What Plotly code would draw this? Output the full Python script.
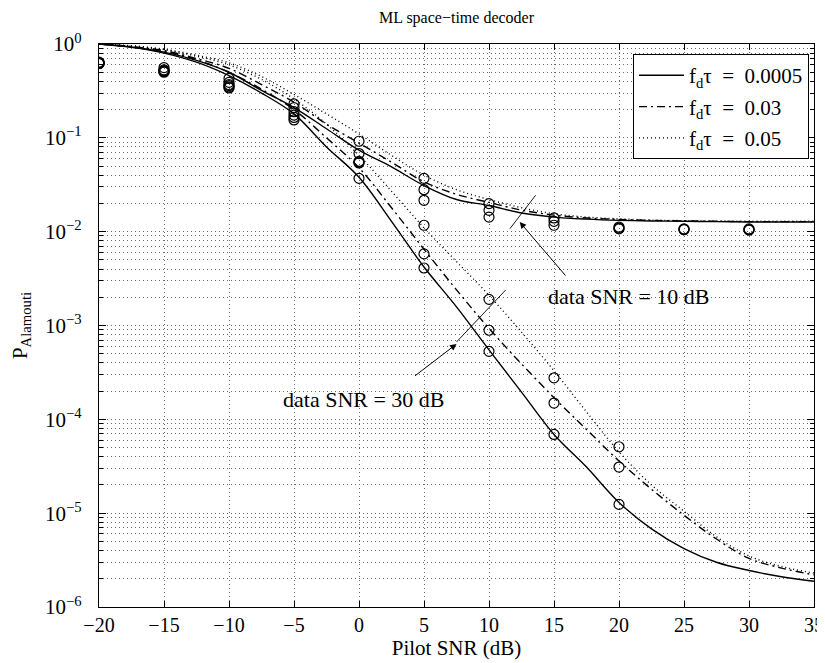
import numpy as np
import plotly.graph_objects as go

# ---------------- data ----------------
x_curve = [-20, -17.5, -15, -12.5, -10, -7.5, -5, -2.5, 0, 2.5, 5, 7.5, 10,
           12.5, 15, 17.5, 20, 22.5, 25, 27.5, 30, 32.5, 35]

# data SNR = 10 dB (upper family)
p_a_10 = [1.0, 0.93, 0.82, 0.67, 0.50, 0.32, 0.21, 0.125, 0.074, 0.049, 0.031, 0.022, 0.019,
          0.0158, 0.0143, 0.0136, 0.0132, 0.0130, 0.0129, 0.0128, 0.0127, 0.0127, 0.0127]
p_b_10 = [1.0, 0.94, 0.85, 0.70, 0.55, 0.37, 0.24, 0.14, 0.088, 0.055, 0.034, 0.025, 0.0205,
          0.017, 0.015, 0.014, 0.0135, 0.0132, 0.0130, 0.0129, 0.0128, 0.0128, 0.0128]
p_c_10 = [1.0, 0.96, 0.88, 0.76, 0.63, 0.45, 0.29, 0.18, 0.11, 0.065, 0.040, 0.028, 0.022,
          0.018, 0.0155, 0.0143, 0.0137, 0.0133, 0.0131, 0.0130, 0.0129, 0.0129, 0.0129]

# data SNR = 30 dB (lower family)
p_a_30 = [1.0, 0.92, 0.80, 0.64, 0.46, 0.30, 0.18, 0.08, 0.038, 0.0129, 0.0042, 0.00158, 0.00055,
          1.95e-4, 6.9e-5, 3.1e-5, 1.3e-5, 6.8e-6, 4.2e-6, 3.0e-6, 2.45e-6, 2.1e-6, 1.88e-6]
p_b_30 = [1.0, 0.93, 0.84, 0.68, 0.50, 0.33, 0.20, 0.10, 0.048, 0.018, 0.0065, 0.0024, 9.3e-4,
          3.9e-4, 1.7e-4, 7.8e-5, 3.6e-5, 1.8e-5, 9.5e-6, 5.3e-6, 3.3e-6, 2.6e-6, 2.2e-6]
p_c_30 = [1.0, 0.95, 0.87, 0.74, 0.60, 0.42, 0.26, 0.14, 0.065, 0.027, 0.011, 0.0048, 0.0021,
          8.5e-4, 3.3e-4, 1.2e-4, 4.5e-5, 2.0e-5, 1.05e-5, 5.6e-6, 3.5e-6, 2.7e-6, 2.3e-6]

# simulated points (circles)
x_sim_10 = [-20, -15, -10, -5, 0, 5, 10, 15, 20, 25, 30]
s_a_10 = [0.62, 0.51, 0.37, 0.19, 0.056, 0.0216, 0.0143, 0.0117, 0.0107, 0.0105, 0.0104]
s_b_10 = [0.63, 0.53, 0.39, 0.21, 0.068, 0.028, 0.0169, 0.0129, 0.0109, 0.0106, 0.0105]
s_c_10 = [0.64, 0.56, 0.43, 0.23, 0.092, 0.037, 0.0199, 0.0140, 0.0112, 0.0107, 0.0107]
x_sim_30 = [-20, -15, -10, -5, 0, 5, 10, 15, 20]
s_a_30 = [0.62, 0.50, 0.34, 0.155, 0.037, 0.0041, 5.3e-4, 6.9e-5, 1.24e-5]
s_b_30 = [0.62, 0.51, 0.35, 0.165, 0.054, 0.0058, 8.9e-4, 1.49e-4, 3.1e-5]
s_c_30 = [0.63, 0.52, 0.36, 0.175, 0.055, 0.0117, 1.9e-3, 2.77e-4, 5.1e-5]

# annotation marker segments (x in dB, y as probability)
seg10_x = [11.61, 13.59]
seg10_y = [10 ** -1.968, 10 ** -1.612]
seg30_x = [7.50, 11.28]
seg30_y = [10 ** -3.176, 10 ** -2.622]

legend_names = ["f<sub>d</sub>τ  =  0.0005", "f<sub>d</sub>τ  =  0.03", "f<sub>d</sub>τ  =  0.05"]
x_ticks = [-20, -15, -10, -5, 0, 5, 10, 15, 20, 25, 30, 35]
x_ticktext = ["−20", "−15", "−10", "−5", "0", "5", "10", "15", "20", "25", "30", "35"]
y_exps = [-6, -5, -4, -3, -2, -1, 0]

FONT = "Liberation Serif, Times New Roman, serif"

fig = go.Figure()
styles = ["solid", "8px,4px,2px,4px", "1px,3px"]
curves = [(p_a_10, p_a_30), (p_b_10, p_b_30), (p_c_10, p_c_30)]
sims = [(s_a_10, s_a_30), (s_b_10, s_b_30), (s_c_10, s_c_30)]

for i in range(3):
    for j, yv in enumerate(curves[i]):
        fig.add_trace(go.Scatter(
            x=x_curve, y=yv, mode="lines", line_shape="spline",
            line=dict(color="black", width=1.4, dash=styles[i]),
            name=legend_names[i], legendgroup=f"g{i}", showlegend=(j == 0)))
for i in range(3):
    for xs, ys in ((x_sim_10, sims[i][0]), (x_sim_30, sims[i][1])):
        fig.add_trace(go.Scatter(
            x=xs, y=ys, mode="markers",
            marker=dict(symbol="circle-open", size=10, color="black", line=dict(width=1.2)),
            showlegend=False, hoverinfo="skip"))
for sx, sy in ((seg10_x, seg10_y), (seg30_x, seg30_y)):
    fig.add_trace(go.Scatter(x=sx, y=sy, mode="lines", line=dict(color="black", width=0.9),
                             showlegend=False, hoverinfo="skip"))

GRIDC = "#6a6a6a"
GRIDD = "1px,3px"
minor_vals = [k * 10.0 ** e for e in range(-6, 0) for k in range(2, 10)]

fig.update_xaxes(range=[-20, 35], tickvals=x_ticks, ticktext=x_ticktext, automargin=False,
                 ticks="inside", ticklen=6, tickcolor="black", showline=True,
                 linecolor="black", linewidth=1.2, mirror="ticks", zeroline=False,
                 tickfont=dict(family=FONT, size=20, color="black"),
                 showgrid=True, gridcolor=GRIDC, griddash=GRIDD, gridwidth=1,
                 title=dict(text="Pilot SNR (dB)", font=dict(family=FONT, size=21, color="black"), standoff=0))
fig.update_yaxes(type="log", range=[-6, 0], automargin=False,
                 tickvals=[10.0 ** e for e in y_exps],
                 ticktext=[f"10<sup>{'−' + str(-e) if e < 0 else e}</sup>" for e in y_exps],
                 ticks="inside", ticklen=7, tickcolor="black", showline=True,
                 linecolor="black", linewidth=1.2, mirror="ticks", zeroline=False,
                 tickfont=dict(family=FONT, size=21, color="black"), ticklabelstandoff=12,
                 showgrid=True, gridcolor=GRIDC, griddash=GRIDD, gridwidth=1,
                 minor=dict(tickvals=minor_vals, ticks="inside", ticklen=4, tickcolor="black",
                            showgrid=True, gridcolor=GRIDC, griddash=GRIDD, gridwidth=1),
                 title=dict(text="P<sub>Alamouti</sub>", font=dict(family=FONT, size=21, color="black"), standoff=18))

# annotations
fig.add_annotation(x=12.36, y=-1.897, ax=15.98, ay=-2.483, axref="x", ayref="y",
                   xref="x", yref="y", text="", showarrow=True, arrowhead=2,
                   arrowsize=1.3, arrowwidth=1, arrowcolor="black")
fig.add_annotation(x=7.50, y=-3.197, ax=4.19, ay=-3.549, axref="x", ayref="y",
                   xref="x", yref="y", text="", showarrow=True, arrowhead=2,
                   arrowsize=1.3, arrowwidth=1, arrowcolor="black")
fig.add_annotation(x=20.79, y=-2.689, xref="x", yref="y", text="data SNR = 10 dB",
                   showarrow=False, font=dict(family=FONT, size=22, color="black"))
fig.add_annotation(x=0.377, y=-3.787, xref="x", yref="y", text="data SNR = 30 dB",
                   showarrow=False, font=dict(family=FONT, size=22, color="black"))

fig.update_layout(
    width=825, height=663,
    margin=dict(l=91, r=19, t=36, b=64),
    paper_bgcolor="white", plot_bgcolor="white",
    title=dict(text="ML space−time decoder", x=0.5, xref="paper", y=0.986, yanchor="middle",
               font=dict(family=FONT, size=16, color="black")),
    legend=dict(x=0.993, y=0.982, xanchor="right", yanchor="top", itemwidth=45,
                bgcolor="white", bordercolor="black", borderwidth=1,
                font=dict(family=FONT, size=21, color="black"), tracegroupgap=1),
    font=dict(family=FONT, color="black"),
)

fig.write_html("out.html")
